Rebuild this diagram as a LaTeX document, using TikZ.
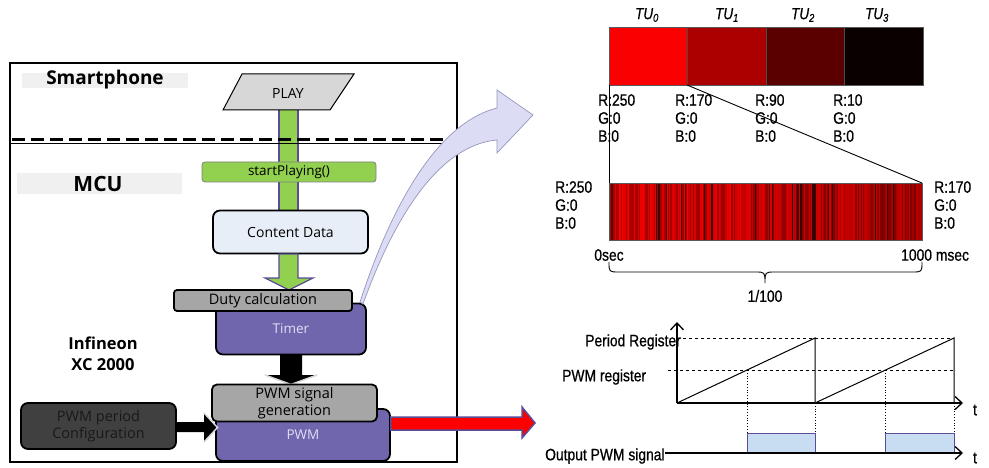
\documentclass[tikz,border=0pt]{standalone}
\usepackage{fontspec}
\setmainfont{Liberation Sans}
\newfontfamily\gothic{Open Sans}
\newfontfamily\nar[FakeStretch=0.84,FakeBold=0.7]{Liberation Sans}
\usetikzlibrary{arrows.meta}
\definecolor{purp}{RGB}{112,102,174}
\definecolor{purpd}{RGB}{90,76,150}
\definecolor{grn}{RGB}{146,208,80}
\definecolor{gbox}{RGB}{166,166,166}
\definecolor{dbox}{RGB}{64,64,64}
\definecolor{cbox}{RGB}{232,238,248}
\definecolor{lav}{RGB}{220,220,244}
\definecolor{lavd}{RGB}{150,150,190}
\definecolor{lbl}{RGB}{240,240,240}
\definecolor{glow}{RGB}{215,215,215}
\definecolor{pulse}{RGB}{200,220,242}
\definecolor{tua}{RGB}{250,0,0}
\definecolor{tub}{RGB}{170,0,0}
\definecolor{tuc}{RGB}{90,0,0}
\definecolor{tud}{RGB}{10,0,0}
\definecolor{timertxt}{RGB}{225,222,245}
\begin{document}
\begin{tikzpicture}[x=1pt,y=-1pt,
  box/.style={draw=black, line width=1.8pt, rounded corners=7pt, inner sep=0pt, align=center,
    font=\gothic\fontsize{14}{16}\selectfont},
  sbox/.style={box, rounded corners=3pt},
  lab/.style={font=\gothic\bfseries\fontsize{19}{21}\selectfont, inner sep=0pt},
  rgb/.style={font=\nar\fontsize{16.5}{18}\selectfont, inner sep=0pt, align=left},
  nt/.style={font=\nar\fontsize{16.5}{18}\selectfont, inner sep=0pt},
  tu/.style={font=\nar\itshape\fontsize{16}{17}\selectfont, inner sep=0pt},
  ax/.style={line width=1.3pt, -{Straight Barb[length=7pt,width=13pt,line width=1.3pt]}},
  ]
\useasboundingbox (0,0) rectangle (989,468);

% ---------------- left: outer box ----------------
\draw[line width=1.8pt] (10,63) rectangle (457,462);

% labels
\fill[lbl] (22,73) rectangle (188,88);
\node[lab] (smart) at (105,80) {Smartphone};
\fill[lbl] (17,173) rectangle (182,194);
\node[lab, font=\gothic\bfseries\fontsize{21}{22}\selectfont] (mcu) at (98,184) {MCU};
\node[lab, font=\gothic\bfseries\fontsize{16.5}{21}\selectfont, align=center] (inf) at (103,354) {Infineon\\XC 2000};

% green bar from PLAY to content
\fill[grn] (279,110) rectangle (298,211);
\draw[purpd, line width=1.2pt] (279,110) -- (279,211) (298,110) -- (298,211);

% separator
\draw[line width=0.8pt] (10,143) -- (457,143);
\draw[line width=3pt, dash pattern=on 13pt off 6pt] (12,140) -- (457,140);

% PLAY
\filldraw[fill=gbox!45, draw=black, line width=1pt] (242,74) -- (354,74) -- (330,110) -- (223,110) -- cycle;
\node[font=\gothic\fontsize{14}{16}\selectfont, inner sep=0pt] (play) at (288,93) {PLAY};

% startPlaying
\node[sbox, draw=gray, line width=0.8pt, fill=grn, minimum width=174pt, minimum height=20pt,
  font=\gothic\fontsize{13.5}{15}\selectfont] (start) at (289,172) {startPlaying()};

% content data
\node[box, fill=cbox, minimum width=155pt, minimum height=43pt] (content) at (290.5,232) {Content Data};

% green arrow content -> duty
\filldraw[fill=grn, draw=purpd, line width=1.2pt] (279,254) -- (298,254) -- (298,278) -- (313,278)
  -- (289,290) -- (265,278) -- (279,278) -- cycle;

% timer & duty
\node[box, fill=purp, minimum width=150pt, minimum height=51pt, text=timertxt,
  font=\gothic\fontsize{13.5}{15}\selectfont] (timer) at (291,329) {\raisebox{-3pt}{Timer}};
\node[sbox, fill=gbox, minimum width=178pt, minimum height=21pt,
  font=\gothic\fontsize{14.5}{16}\selectfont] (duty) at (263,300.5) {Duty calculation};

% black arrow timer -> pwm gen
\fill[black] (280,354) -- (302,354) -- (302,375) -- (317,375) -- (291,384) -- (265,375) -- (280,375) -- cycle;
\draw[glow, line width=1.5pt] (265,375) -- (291,384.5) -- (317,375);

% pwm & pwm gen
\node[box, fill=purp, minimum width=174pt, minimum height=52pt, text=timertxt,
  font=\gothic\fontsize{13.5}{15}\selectfont] (pwm) at (303,435) {\raisebox{-8pt}{PWM}};
\node[box, rounded corners=5pt, fill=gbox, minimum width=165pt, minimum height=37pt,
  font=\gothic\fontsize{14.5}{17.5}\selectfont] (pwmgen) at (294.5,403) {PWM signal\\generation};

% config
\node[box, fill=dbox, minimum width=155pt, minimum height=46pt, text=black!90,
  font=\gothic\fontsize{14.5}{17}\selectfont] (cfg) at (98.5,426) {PWM period\\Configuration};

% black arrow cfg -> pwm
\fill[black] (cfg.east |- 0,422) -- (204,422) -- (204,413) -- (217,427.5) -- (204,442) -- (204,432) -- (cfg.east |- 0,432) -- cycle;
\draw[glow, line width=1.5pt] (204,413) -- (217.5,427.5) -- (204,442);

% red arrow
\filldraw[fill=red, draw=purpd, line width=1.5pt] (pwm.east |- 0,417) -- (522,417) -- (522,407) -- (535,423)
  -- (522,438) -- (522,430) -- (pwm.east |- 0,430) -- cycle;

% curved arrow
\filldraw[fill=lav, draw=lavd, line width=0.7pt] (360,302) .. controls (385,225) and (430,125) .. (497,108)
  -- (497,90) -- (533,115) -- (497,153) -- (497,140) .. controls (440,145) and (395,215) .. (363,304) -- cycle;

% ---------------- right top: TU bar ----------------
\fill[tua] (609,27) rectangle (687,85);
\fill[tub] (687,27) rectangle (766,85);
\fill[tuc] (766,27) rectangle (844,85);
\fill[tud] (844,27) rectangle (923,85);
\draw[gray!70!black, line width=0.6pt] (609,27) rectangle (923,85);
\draw[black!70, line width=0.6pt] (687,27) -- (687,85) (766,27) -- (766,85) (844,27) -- (844,85);
\node[tu] (tu0) at (647,15) {TU\textsubscript{0}};
\node[tu] (tu1) at (727,15) {TU\textsubscript{1}};
\node[tu] (tu2) at (803,15) {TU\textsubscript{2}};
\node[tu] (tu3) at (877,15) {TU\textsubscript{3}};

\node[rgb, anchor=north west] (c0) at (598,94) {R:250\\G:0\\B:0};
\node[rgb, anchor=north west] (c1) at (675,94) {R:170\\G:0\\B:0};
\node[rgb, anchor=north west] (c2) at (755,94) {R:90\\G:0\\B:0};
\node[rgb, anchor=north west] (c3) at (833,94) {R:10\\G:0\\B:0};

% striped bar
\pgfmathsetseed{11}
\foreach \i in {0,...,259}{
  \pgfmathsetmacro\xx{609+\i*1.2038}
  \pgfmathsetmacro\base{232-0.25*\i}
  \pgfmathsetmacro\q{rnd}
  \pgfmathtruncatemacro\rr{\q<0.07 ? \base*0.3 : (\q<0.4 ? \base*0.75 : min(255,\base*(0.95+0.2*rnd)))}
  \definecolor{stc}{RGB}{\rr,0,0}
  \fill[stc] (\xx,183) rectangle ++(1.3,57);
}
\draw[gray!70!black, line width=0.6pt] (609,183) rectangle (922,240);
\coordinate (zl) at (609,183);
\coordinate (zr) at (922,183);
\draw[line width=0.9pt] (609,85) -- (zl);
\draw[line width=0.9pt] (687,85) -- (zr);

\node[rgb, anchor=north west] (l0) at (555,181) {R:250\\G:0\\B:0};
\node[rgb, anchor=north west] (l1) at (934,181) {R:170\\G:0\\B:0};
\node[nt] (t0) at (609,255) {0sec};
\node[nt, anchor=west] (t1) at (901,255) {1000 msec};
\draw[line width=0.9pt] (609,262) .. controls (609,272) .. (619,272) -- (755,272) .. controls (765,272) .. (765,283)
  .. controls (765,272) .. (775,272) -- (912,272) .. controls (922,272) .. (922,262);
\node[nt] (frac) at (765,296) {1/100};

% ---------------- right bottom: PWM timing ----------------
\draw[dashed, line width=0.7pt] (677,338) -- (954,338);
\draw[dashed, line width=0.7pt] (668,370) -- (954,370);
\draw[dotted, line width=0.8pt] (747,370) -- (747,433) (815,403) -- (815,433) (885,370) -- (885,433) (954,403) -- (954,433);
\filldraw[fill=pulse, draw=purpd, line width=0.8pt] (747,453) rectangle (815,433);
\filldraw[fill=pulse, draw=purpd, line width=0.8pt] (885,453) rectangle (954,433);
\draw[line width=1pt] (677,403) -- (815,338) -- (815,403) -- (954,338) -- (954,403);
\draw[ax] (677,403) -- (677,322);
\draw[ax] (677,403) -- (963,403);
\node[nt, anchor=east] (preg) at (681,342) {Period Register};
\node[nt, anchor=west] (pwmreg) at (562,377) {PWM register};
\node[nt, anchor=west] (outsig) at (545,456) {Output PWM signal};
\draw[ax] (outsig.east |- 0,453) -- (963,453);
\node[nt] (ta) at (975,410) {t};
\node[nt] (tb) at (975,458) {t};
\end{tikzpicture}
\end{document}
